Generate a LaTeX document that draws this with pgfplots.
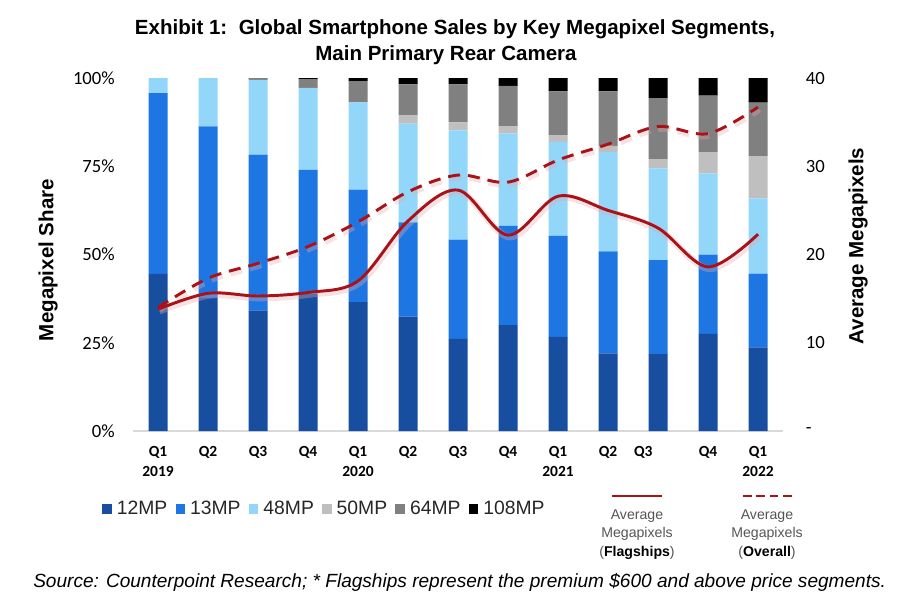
\documentclass[border=0pt]{standalone}
\usepackage{fontspec}
\setmainfont{Liberation Sans}
\newfontfamily\calibri{Carlito}
\usepackage{pgfplots}
\pgfplotsset{compat=1.18}
\definecolor{cA}{RGB}{24,78,160}
\definecolor{cB}{RGB}{30,118,226}
\definecolor{cC}{RGB}{146,214,250}
\definecolor{cD}{RGB}{191,191,191}
\definecolor{cE}{RGB}{128,128,128}
\definecolor{cF}{RGB}{0,0,0}
\definecolor{dred}{RGB}{170,18,25}
\definecolor{lgray}{RGB}{85,85,85}
\begin{document}
\begin{tikzpicture}
\path[use as bounding box] (0pt,0pt) rectangle (675pt,-459pt);
\begin{axis}[
  at={(99.75pt,-323.25pt)}, anchor=south west,
  scale only axis, width=487.5pt, height=264.75pt,
  ybar stacked, bar width=14.25pt,
  xmin=-0.5, xmax=12.5, ymin=0, ymax=100,
  xtick={0,...,12},
  xticklabels={{Q1\\2019},Q2,Q3,Q4,{Q1\\2020},Q2,Q3,Q4,{Q1\\2021},Q2,{\kern-11pt Q3\kern11pt},Q4,{Q1\\2022}},
  ytick={0,25,50,75,100},
  yticklabels={0\%,25\%,50\%,75\%,100\%},
  /pgf/number format/assume math mode=true,
  major tick length=0pt,
  axis x line*=bottom, axis y line*=left,
  separate axis lines,
  x axis line style={draw=black!15, line width=0.8pt, -},
  y axis line style={draw=none},
  xticklabel style={font=\calibri\bfseries\fontsize{11.6}{14.5}\selectfont, align=center, inner sep=0pt, anchor=north, yshift=-11.5pt},
  yticklabel style={font=\calibri\fontsize{14}{16}\selectfont, inner sep=0pt, anchor=east, xshift=-13.5pt},
  legend columns=6,
  legend style={at={(-0.0477,-0.221)}, anchor=west, draw=none, fill=none, inner sep=0pt,
    font=\fontsize{14.5}{16}\selectfont, text=black!85,
    nodes={inner sep=1.2pt},
    /tikz/every odd column/.append style={column sep=2.5pt},
    /tikz/every even column/.append style={column sep=5pt}},
  legend image code/.code={\fill[#1] (0pt,-3.6pt) rectangle (7.2pt,3.6pt);},
]
\addplot[fill=cA, draw=none] coordinates {(0,44.5) (1,37.7) (2,34.2) (3,39.0) (4,36.5) (5,32.4) (6,26.1) (7,30.0) (8,26.7) (9,22.0) (10,21.8) (11,27.5) (12,23.7)};
\addlegendentry{12MP}
\addplot[fill=cB, draw=none] coordinates {(0,51.2) (1,48.6) (2,44.1) (3,35.0) (4,31.9) (5,26.7) (6,28.1) (7,28.1) (8,28.6) (9,28.9) (10,26.6) (11,22.5) (12,20.9)};
\addlegendentry{13MP}
\addplot[fill=cC, draw=none] coordinates {(0,4.3) (1,13.7) (2,21.2) (3,23.2) (4,24.7) (5,28.0) (6,31.0) (7,26.2) (8,26.6) (9,28.1) (10,26.0) (11,23.0) (12,21.3)};
\addlegendentry{48MP}
\addplot[fill=cD, draw=none] coordinates {(0,0) (1,0) (2,0) (3,0) (4,0) (5,2.4) (6,2.2) (7,2.1) (8,1.9) (9,1.7) (10,2.6) (11,6.0) (12,12.0)};
\addlegendentry{50MP}
\addplot[fill=cE, draw=none] coordinates {(0,0) (1,0) (2,0.5) (3,2.5) (4,6.0) (5,8.7) (6,10.8) (7,11.4) (8,12.4) (9,15.5) (10,17.3) (11,16.0) (12,15.1)};
\addlegendentry{64MP}
\addplot[fill=cF, draw=none] coordinates {(0,0) (1,0) (2,0) (3,0.3) (4,0.9) (5,1.8) (6,1.8) (7,2.2) (8,3.8) (9,3.8) (10,5.7) (11,5.0) (12,7.0)};
\addlegendentry{108MP}
\end{axis}
\begin{axis}[
  at={(99.75pt,-323.25pt)}, anchor=south west,
  scale only axis, width=487.5pt, height=264.75pt,
  xmin=-0.5, xmax=12.5, ymin=0, ymax=40,
  axis x line=none, axis y line*=right,
  y axis line style={draw=none},
  ytick={0,10,20,30,40},
  yticklabels={-,10,20,30,40},
  /pgf/number format/assume math mode=true,
  major tick length=0pt,
  yticklabel style={font=\calibri\fontsize{14}{16}\selectfont, inner sep=0pt, anchor=west, xshift=17pt},
]
\addplot[dred!35, opacity=0.35, line width=5pt, smooth, tension=0.55, yshift=-1.5pt, xshift=1pt, dash pattern=on 9pt off 6pt] coordinates {(0,14.0) (1,17.3) (2,19.0) (3,20.9) (4,23.7) (5,27.1) (6,29.0) (7,28.2) (8,30.7) (9,32.5) (10,34.5) (11,33.7) (12,36.7)};
\addplot[dred!35, opacity=0.35, line width=5pt, smooth, tension=0.55, yshift=-1.5pt, xshift=1pt] coordinates {(0,13.8) (1,15.6) (2,15.3) (3,15.7) (4,17.0) (5,23.8) (6,27.3) (7,22.2) (8,26.6) (9,25.0) (10,23.0) (11,18.6) (12,22.3)};
\addplot[dred, line width=2.2pt, smooth, tension=0.55, dash pattern=on 9pt off 6pt] coordinates {(0,14.0) (1,17.3) (2,19.0) (3,20.9) (4,23.7) (5,27.1) (6,29.0) (7,28.2) (8,30.7) (9,32.5) (10,34.5) (11,33.7) (12,36.7)};
\addplot[dred, line width=2.2pt, smooth, tension=0.55] coordinates {(0,13.8) (1,15.6) (2,15.3) (3,15.7) (4,17.0) (5,23.8) (6,27.3) (7,22.2) (8,26.6) (9,25.0) (10,23.0) (11,18.6) (12,22.3)};
\end{axis}
\begin{scope}[x=0.75pt, y=-0.75pt]
\node[font=\bfseries\fontsize{15.4}{18}\selectfont] at (455,29) {Exhibit 1:\ \ Global Smartphone Sales by Key Megapixel Segments,};
\node[font=\bfseries\fontsize{15.4}{18}\selectfont] at (446,55) {Main Primary Rear Camera};
\node[rotate=90, font=\bfseries\fontsize{15.4}{18}\selectfont] at (48,260) {Megapixel Share};
\node[rotate=90, font=\bfseries\fontsize{15.4}{18}\selectfont] at (858,246) {Average Megapixels};
\draw[dred, line width=2.2pt] (612,496) -- (662,496);
\node[align=center, text=lgray, font=\fontsize{10.6}{13.9}\selectfont, anchor=north] at (637,505) {Average\\Megapixels\\(\textcolor{black}{\textbf{Flagships}})};
\draw[dred, line width=2.2pt, dash pattern=on 6.5pt off 3.5pt] (743,496) -- (792,496);
\node[align=center, text=lgray, font=\fontsize{10.6}{13.9}\selectfont, anchor=north] at (767,505) {Average\\Megapixels\\(\textcolor{black}{\textbf{Overall}})};
\node[anchor=west, font=\itshape\fontsize{14.3}{16}\selectfont, inner sep=0pt] at (33,582) {Source: Counterpoint Research; * Flagships represent the premium \$600 and above price segments.};
\end{scope}
\end{tikzpicture}
\end{document}
